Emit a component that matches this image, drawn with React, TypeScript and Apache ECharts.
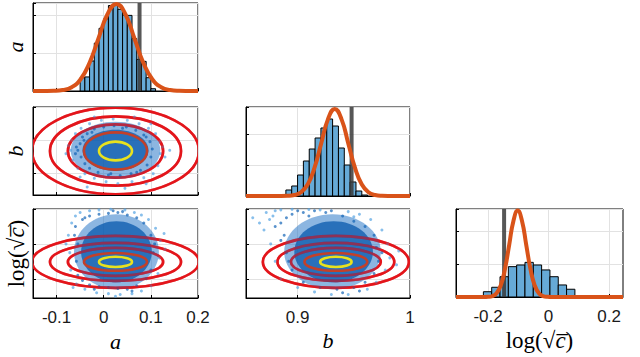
import React, { useEffect, useRef } from 'react';
import * as echarts from 'echarts';

// ---------- ticks ----------
const A_TICKS = [-0.1, 0, 0.1, 0.2];
const B_TICKS = [0.9, 1];
const B_TICKS_SCATTER = [0.9, 0.95, 1];
const C_TICKS = [-0.2, 0, 0.2];
const COUNT_TICK_STEP = 1000;

// ---------- histograms ----------
const A_BIN_EDGES = [-0.05, -0.04, -0.03, -0.02, -0.01, 0, 0.01, 0.02, 0.03, 0.04, 0.05, 0.06, 0.07, 0.08, 0.09, 0.1, 0.11];
const A_COUNTS = [350, 370, 790, 1260, 1650, 1900, 2250, 2280, 2150, 2000, 1990, 1380, 830, 780, 350, 60];
const B_BIN_EDGES = [0.8895, 0.8947, 0.8999, 0.9051, 0.9103, 0.9155, 0.9207, 0.9259, 0.9311, 0.9363, 0.9415, 0.9467, 0.9519, 0.9571, 0.9623];
const B_COUNTS = [194, 323, 677, 1129, 1516, 1871, 2194, 2484, 2258, 1548, 1000, 452, 161, 32];
const C_BIN_EDGES = [-0.243, -0.2155, -0.188, -0.1605, -0.133, -0.1055, -0.078, -0.0505, -0.023, 0.0045, 0.032, 0.0595, 0.087, 0.1145];
const C_COUNTS = [40, 160, 295, 615, 920, 970, 1050, 970, 820, 615, 365, 235, 30];

// ---------- fitted densities ----------
const A_CURVE_X = [-0.15, -0.125, -0.106, -0.087, -0.068, -0.049, -0.03, -0.011, 0.008, 0.027, 0.046, 0.065, 0.084, 0.103, 0.122, 0.141, 0.16, 0.179, 0.2];
const A_CURVE_Y = [0, 1, 5, 25, 100, 310, 744, 1389, 2021, 2290, 2021, 1389, 744, 310, 100, 25, 5, 1, 0];
const B_CURVE_X = [0.854, 0.885, 0.891, 0.897, 0.903, 0.909, 0.915, 0.921, 0.927, 0.933, 0.939, 0.945, 0.951, 0.957, 0.963, 0.969, 0.975, 0.981, 1.0];
const B_CURVE_Y = [0, 1, 6, 31, 123, 380, 912, 1704, 2480, 2810, 2480, 1704, 912, 380, 123, 31, 6, 1, 0];
const C_CURVE_X = [-0.306, -0.214, -0.2, -0.186, -0.172, -0.158, -0.144, -0.13, -0.116, -0.102, -0.088, -0.074, -0.06, -0.046, -0.032, -0.018, -0.004, 0.01, 0.246];
const C_CURVE_Y = [0, 1, 6, 29, 115, 354, 851, 1589, 2312, 2620, 2312, 1589, 851, 354, 115, 29, 6, 1, 0];

// ---------- true values ----------
const A_TRUE = 0.076;
const B_TRUE = 0.948;
const C_TRUE = -0.147;

// ---------- contour ellipses ----------
const CENTER_A = 0.025;
const CENTER_B = 0.934;
const CENTER_C = -0.103;
const CONTOUR_A_RADII = [0.177, 0.139, 0.101, 0.067, 0.035];
const CONTOUR_B_RADII = [0.065, 0.052, 0.04, 0.028, 0.014];
const CONTOUR_C_RADII = [0.149, 0.109, 0.08, 0.051, 0.029];

// ---------- sample clouds: dense regions [cx, cy, rx, ry] (halo, core) ----------
const CLOUD_AB = [[0.025, 0.935, 0.095, 0.043], [0.025, 0.935, 0.07, 0.031]];
const CLOUD_AC = [[0.027, -0.045, 0.09, 0.215], [0.027, -0.045, 0.075, 0.175]];
const CLOUD_BC = [[0.931, -0.045, 0.043, 0.215], [0.932, -0.045, 0.035, 0.175]];

// ---------- scattered samples ----------
const P_AB_DARK = [[-0.055, 0.935], [-0.05, 0.945], [-0.048, 0.925], [-0.045, 0.955], [-0.04, 0.915], [-0.035, 0.96], [-0.03, 0.908], [-0.02, 0.967], [-0.012, 0.902], [0.0, 0.97], [0.01, 0.898], [0.022, 0.972], [0.035, 0.897], [0.048, 0.97], [0.058, 0.9], [0.068, 0.965], [0.078, 0.905], [0.085, 0.958], [0.092, 0.913], [0.098, 0.948], [0.1, 0.925], [0.103, 0.937], [-0.058, 0.94], [-0.06, 0.93], [0.09, 0.955], [0.07, 0.902], [-0.025, 0.962], [0.04, 0.968], [0.015, 0.9], [-0.042, 0.95]];
const P_AB_LIGHT = [[-0.07, 0.935], [-0.068, 0.95], [-0.066, 0.92], [-0.06, 0.96], [-0.055, 0.908], [-0.048, 0.968], [-0.04, 0.9], [-0.03, 0.975], [-0.02, 0.893], [-0.005, 0.98], [0.005, 0.888], [0.02, 0.982], [0.03, 0.885], [0.05, 0.98], [0.06, 0.888], [0.075, 0.975], [0.085, 0.894], [0.095, 0.968], [0.105, 0.9], [0.11, 0.96], [0.115, 0.912], [0.118, 0.948], [0.12, 0.93], [-0.075, 0.942], [0.125, 0.94], [-0.02, 0.985], [0.045, 0.878], [0.13, 0.925], [-0.08, 0.93], [0.1, 0.975], [-0.05, 0.895], [0.065, 0.985], [0.14, 0.935], [-0.035, 0.88], [0.09, 0.885]];
const P_AC_DARK = [[-0.06, 0.1], [-0.055, 0.0], [-0.058, -0.1], [-0.055, -0.18], [-0.045, 0.14], [-0.03, 0.16], [-0.01, 0.17], [0.01, 0.175], [0.03, 0.18], [0.05, 0.165], [0.07, 0.15], [0.085, 0.12], [0.1, 0.05], [0.105, -0.05], [0.1, -0.15], [0.09, -0.2], [0.07, -0.24], [0.05, -0.26], [0.03, -0.255], [0.01, -0.25], [-0.01, -0.245], [-0.03, -0.235], [-0.045, -0.21], [-0.062, 0.05], [0.108, 0.0], [0.02, 0.19], [0.04, 0.185], [-0.02, -0.26], [0.06, -0.27], [-0.04, 0.15]];
const P_AC_LIGHT = [[-0.075, 0.05], [-0.072, -0.05], [-0.07, -0.15], [-0.068, 0.12], [-0.06, 0.16], [-0.05, 0.18], [-0.03, 0.19], [-0.01, 0.195], [0.015, 0.198], [0.045, 0.195], [0.065, 0.18], [0.08, 0.165], [0.095, 0.14], [0.11, 0.09], [0.12, 0.02], [0.118, -0.08], [0.115, -0.17], [0.1, -0.24], [0.08, -0.27], [0.06, -0.285], [0.035, -0.29], [0.01, -0.285], [-0.015, -0.28], [-0.04, -0.26], [-0.058, -0.23], [-0.08, 0.0], [0.128, 0.06], [0.13, -0.03], [-0.065, -0.25], [0.025, -0.3]];
const P_BC_DARK = [[0.89, 0.15], [0.885, 0.12], [0.895, 0.17], [0.905, 0.18], [0.915, 0.19], [0.925, 0.18], [0.94, 0.16], [0.95, 0.13], [0.96, 0.1], [0.968, 0.05], [0.97, -0.02], [0.972, -0.1], [0.968, -0.17], [0.96, -0.22], [0.95, -0.25], [0.935, -0.26], [0.92, -0.25], [0.905, -0.22], [0.895, -0.15], [0.89, -0.05], [0.888, 0.05], [0.88, 0.1], [0.9, 0.19], [0.91, 0.16], [0.93, 0.19], [0.955, -0.27], [0.94, -0.28], [0.975, -0.05], [0.885, 0.02], [0.892, -0.1]];
const P_BC_LIGHT = [[0.875, 0.14], [0.872, 0.18], [0.88, 0.19], [0.878, 0.16], [0.885, 0.195], [0.895, 0.198], [0.91, 0.197], [0.92, 0.195], [0.945, 0.185], [0.955, 0.17], [0.965, 0.14], [0.975, 0.08], [0.98, 0.0], [0.982, -0.08], [0.978, -0.15], [0.97, -0.22], [0.962, -0.26], [0.945, -0.29], [0.93, -0.29], [0.915, -0.275], [0.9, -0.25], [0.885, -0.2], [0.88, -0.1], [0.876, 0.0], [0.87, 0.08], [0.866, 0.12], [0.99, -0.04], [0.988, -0.12], [0.95, 0.155], [0.86, 0.15]];

// ---------- styling ----------
const SANS = '"Liberation Sans", Arial, Helvetica, sans-serif';
const SERIF = '"Liberation Serif", "DejaVu Serif", serif';
const BAR_FILL = '#66AAD7';
const ORANGE = '#D95319';
const TRUE_COLOR = '#3a3a3a';
const CONTOUR_COLORS = ['#E3161B', '#E3161B', '#E3161B', '#C2402A', '#E8E21E'];
const CLOUD_COLORS = ['rgba(25,110,195,0.5)', 'rgba(8,88,172,0.75)'];
const DOT_DARK = 'rgba(10,95,180,0.85)';
const DOT_LIGHT = 'rgba(80,160,225,0.85)';
const GRID_COLOR = '#e2e2e2';

const NAME_STYLE = {
  fontFamily: SERIF,
  fontStyle: 'italic',
  fontSize: 22,
  color: '#000',
  rich: {
    r: { fontFamily: SERIF, fontStyle: 'normal', fontSize: 23, color: '#000' },
    i: { fontFamily: SERIF, fontStyle: 'italic', fontSize: 23, color: '#000' },
  },
};
const LOGC_NAME = '{r|log(√}{i|c\u0305}{r|)}';

function valueAxis(gridIndex: number, min: number, max: number, ticks: number[] | null, showLabels: boolean, extra: any = {}) {
  const tickCfg: any = { show: true, inside: true, length: 3, lineStyle: { color: '#000', width: 1 } };
  const labelCfg: any = { show: showLabels, fontFamily: SANS, fontSize: 17, color: '#1a1a1a', margin: 11 };
  const ax: any = {
    type: 'value',
    gridIndex,
    min,
    max,
    axisLine: { show: true, onZero: false, lineStyle: { color: '#000', width: 1 } },
    splitLine: { show: true, lineStyle: { color: GRID_COLOR, width: 1 } },
    axisTick: tickCfg,
    axisLabel: labelCfg,
    ...extra,
  };
  if (ticks) {
    tickCfg.customValues = ticks;
    labelCfg.customValues = ticks;
  } else {
    ax.interval = COUNT_TICK_STEP;
  }
  return ax;
}

const histRender = (params: any, api: any) => {
  const p0 = api.coord([api.value(0), api.value(2)]);
  const p1 = api.coord([api.value(1), 0]);
  return {
    type: 'rect',
    shape: { x: p0[0], y: p0[1], width: p1[0] - p0[0], height: p1[1] - p0[1] },
    style: { fill: BAR_FILL, stroke: '#000', lineWidth: 1 },
  };
};

// data row: [cx, cy, rx, ry, level, opacity]
const contourRender = (params: any, api: any) => {
  const c = api.coord([api.value(0), api.value(1)]);
  const s = api.size([api.value(2), api.value(3)]);
  return {
    type: 'ellipse',
    shape: { cx: c[0], cy: c[1], rx: s[0], ry: s[1] },
    style: { fill: 'none', stroke: CONTOUR_COLORS[api.value(4)], lineWidth: 2.6, opacity: api.value(5) },
  };
};

const cloudRender = (params: any, api: any) => {
  const c = api.coord([api.value(0), api.value(1)]);
  const s = api.size([api.value(2), api.value(3)]);
  return {
    type: 'ellipse',
    shape: { cx: c[0], cy: c[1], rx: s[0], ry: s[1] },
    style: { fill: CLOUD_COLORS[params.dataIndex], stroke: 'none' },
  };
};

function histSeries(idx: number, edges: number[], counts: number[]) {
  return {
    type: 'custom',
    xAxisIndex: idx,
    yAxisIndex: idx,
    renderItem: histRender,
    clip: true,
    silent: true,
    z: 2,
    encode: { x: [0, 1], y: 2 },
    data: counts.map((v, i) => [edges[i], edges[i + 1], v]),
  };
}

function curveSeries(idx: number, xs: number[], ys: number[]) {
  return {
    type: 'line',
    xAxisIndex: idx,
    yAxisIndex: idx,
    smooth: 0.5,
    showSymbol: false,
    silent: true,
    z: 4,
    lineStyle: { color: ORANGE, width: 4 },
    data: xs.map((x, i) => [x, ys[i]]),
  };
}

function trueSeries(idx: number, v: number, top: number) {
  return {
    type: 'line',
    xAxisIndex: idx,
    yAxisIndex: idx,
    showSymbol: false,
    silent: true,
    z: 3,
    lineStyle: { color: TRUE_COLOR, width: 4, opacity: 0.85 },
    data: [[v, 0], [v, top]],
  };
}

function cloudSeries(idx: number, cloud: number[][], dark: number[][], light: number[][], cx: number, cy: number, rxs: number[], rys: number[]) {
  const outerRings = rxs.slice(0, 3).map((r, i) => [cx, cy, r, rys[i], i, 1]);
  const outerOverlay = rxs.slice(0, 3).map((r, i) => [cx, cy, r, rys[i], i, 0.55]);
  const innerRings = rxs.slice(3).map((r, i) => [cx, cy, r, rys[i + 3], i + 3, 1]);
  const base = { xAxisIndex: idx, yAxisIndex: idx, clip: true, silent: true };
  return [
    { ...base, type: 'custom', renderItem: contourRender, z: 2, encode: { x: 0, y: 1 }, data: outerRings },
    { ...base, type: 'custom', renderItem: cloudRender, z: 3, encode: { x: 0, y: 1 }, data: cloud },
    { ...base, type: 'scatter', symbolSize: 3, z: 3, itemStyle: { color: DOT_LIGHT }, data: light },
    { ...base, type: 'scatter', symbolSize: 3, z: 3, itemStyle: { color: DOT_DARK }, data: dark },
    { ...base, type: 'custom', renderItem: contourRender, z: 4, encode: { x: 0, y: 1 }, data: outerOverlay },
    { ...base, type: 'custom', renderItem: contourRender, z: 4, encode: { x: 0, y: 1 }, data: innerRings },
  ];
}

const A_MAX = 2316;
const B_MAX = 2871;
const C_MAX = 2667;

export default function App() {
  const ref = useRef<HTMLDivElement>(null);
  useEffect(() => {
    const chart = echarts.init(ref.current!, null, { renderer: 'svg' });
    const gridBase = { show: true, borderColor: '#000', borderWidth: 1, backgroundColor: '#fff', containLabel: false, outerBoundsMode: 'none' };
    const option: any = {
      animation: false,
      backgroundColor: '#fff',
      grid: [
        { ...gridBase, left: 33, top: 3, width: 165, height: 88 },
        { ...gridBase, left: 33, top: 107, width: 165, height: 88 },
        { ...gridBase, left: 33, top: 209, width: 165, height: 89 },
        { ...gridBase, left: 246, top: 107, width: 164, height: 89 },
        { ...gridBase, left: 246, top: 209, width: 164, height: 89 },
        { ...gridBase, left: 456, top: 209, width: 167, height: 88 },
      ],
      xAxis: [
        valueAxis(0, -0.15, 0.2, A_TICKS, false),
        valueAxis(1, -0.15, 0.2, A_TICKS, false),
        valueAxis(2, -0.15, 0.2, A_TICKS, true, { name: 'a', nameLocation: 'middle', nameGap: 32, nameTextStyle: NAME_STYLE }),
        valueAxis(3, 0.854, 1.0, B_TICKS, false),
        valueAxis(4, 0.854, 1.0, B_TICKS, true, { name: 'b', nameLocation: 'middle', nameGap: 31, nameTextStyle: NAME_STYLE }),
        valueAxis(5, -0.306, 0.246, C_TICKS, true, { name: LOGC_NAME, nameLocation: 'middle', nameGap: 32, nameTextStyle: NAME_STYLE }),
      ],
      yAxis: [
        valueAxis(0, 0, A_MAX, null, false, { name: 'a', nameLocation: 'middle', nameGap: 7, nameTextStyle: NAME_STYLE }),
        valueAxis(1, 0.868, 1.0, B_TICKS_SCATTER, false, { name: 'b', nameLocation: 'middle', nameGap: 7, nameTextStyle: NAME_STYLE }),
        valueAxis(2, -0.31, 0.2, C_TICKS, false, { name: LOGC_NAME, nameLocation: 'middle', nameGap: 5, nameTextStyle: NAME_STYLE }),
        valueAxis(3, 0, B_MAX, null, false),
        valueAxis(4, -0.31, 0.2, C_TICKS, false),
        valueAxis(5, 0, C_MAX, null, false),
      ],
      series: [
        histSeries(0, A_BIN_EDGES, A_COUNTS),
        trueSeries(0, A_TRUE, A_MAX),
        curveSeries(0, A_CURVE_X, A_CURVE_Y),
        ...cloudSeries(1, CLOUD_AB, P_AB_DARK, P_AB_LIGHT, CENTER_A, CENTER_B, CONTOUR_A_RADII, CONTOUR_B_RADII),
        ...cloudSeries(2, CLOUD_AC, P_AC_DARK, P_AC_LIGHT, CENTER_A, CENTER_C, CONTOUR_A_RADII, CONTOUR_C_RADII),
        histSeries(3, B_BIN_EDGES, B_COUNTS),
        trueSeries(3, B_TRUE, B_MAX),
        curveSeries(3, B_CURVE_X, B_CURVE_Y),
        ...cloudSeries(4, CLOUD_BC, P_BC_DARK, P_BC_LIGHT, CENTER_B, CENTER_C, CONTOUR_B_RADII, CONTOUR_C_RADII),
        histSeries(5, C_BIN_EDGES, C_COUNTS),
        trueSeries(5, C_TRUE, C_MAX),
        curveSeries(5, C_CURVE_X, C_CURVE_Y),
      ],
    };
    chart.setOption(option);
    return () => chart.dispose();
  }, []);
  return (
    <div
      ref={ref}
      style={{ position: 'fixed', left: 0, top: 0, width: 640, height: 357, background: '#fff' }}
    />
  );
}
